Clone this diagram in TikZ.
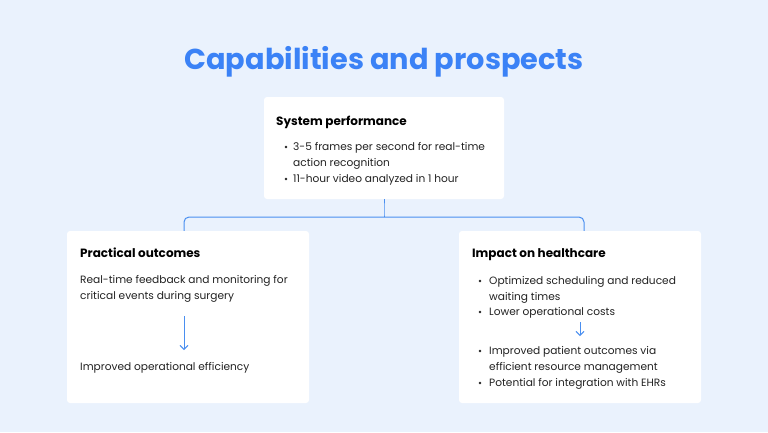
\documentclass[tikz,border=0pt]{standalone}
\usepackage{fontspec}
\setmainfont{Poppins}
\usetikzlibrary{arrows.meta}
\definecolor{bg}{HTML}{EAF2FD}
\definecolor{tblue}{HTML}{3B82F6}
\definecolor{lblue}{HTML}{4A8FF0}
\definecolor{txt}{HTML}{222222}
\tikzset{
  card/.style={draw=none,fill=white,rounded corners=3pt,inner sep=0},
  head/.style={anchor=base west,font=\fontsize{12}{14}\selectfont\bfseries,text=black,inner sep=0},
  body/.style={anchor=base west,font=\fontsize{10.6}{13}\selectfont,text=txt,inner sep=0},
  dot/.style={circle,fill=txt,inner sep=0,minimum size=2.6pt},
  conn/.style={draw=lblue,line width=1pt,rounded corners=5pt},
  arr/.style={draw=lblue,line width=0.9pt,-{Straight Barb[length=4pt,width=8pt]}}
}
\begin{document}
\begin{tikzpicture}[x=1pt,y=-1pt]
\fill[bg] (0,0) rectangle (768,432);
\useasboundingbox (0,0) rectangle (768,432);
\node[font=\fontsize{28.8}{32}\selectfont\bfseries,text=tblue] (title) at (384,62) {Capabilities and prospects};
\node[card,minimum width=240pt,minimum height=102pt] (top) at (384,148) {};
\node[card,minimum width=242pt,minimum height=172pt] (left) at (188,317) {};
\node[card,minimum width=242pt,minimum height=172pt] (right) at (580,317) {};
% connectors
\coordinate (cm) at (384,217);
\draw[conn] (top.south) -- (384,212) -- (cm);
\draw[conn] (cm) -- (184,217) -- (left.north -| 184,0);
\draw[conn] (cm) -- (584,217) -- (right.north -| 584,0);
% top
\node[head] (th) at (276,125) {System performance};
\node[dot] (tb1) at (286,147) {};
\node[body] (tt1) at (293,150) {3-5 frames per second for real-time};
\node[body] (tt1b) at (293,166) {action recognition};
\node[dot] (tb2) at (286,179) {};
\node[body] (tt2) at (293,182) {11-hour video analyzed in 1 hour};
% left
\node[head] (lh) at (80,257) {Practical outcomes};
\node[body] (l1) at (80,283) {Real-time feedback and monitoring for};
\node[body] (l2) at (80,299) {critical events during surgery};
\coordinate (la1) at (184,316);
\coordinate (la2) at (184,350);
\draw[arr] (la1) -- (la2);
\node[body] (l3) at (80,370) {Improved operational efficiency};
% right
\node[head] (rh) at (472,257) {Impact on healthcare};
\node[dot] (rb1) at (480,281) {};
\node[body] (r1) at (489,284) {Optimized scheduling and reduced};
\node[body] (r1b) at (489,300) {waiting times};
\node[dot] (rb2) at (480,312) {};
\node[body] (r2) at (489,315) {Lower operational costs};
\coordinate (ra1) at (580,322);
\coordinate (ra2) at (580,336);
\draw[arr] (ra1) -- (ra2);
\node[dot] (rb3) at (480,351) {};
\node[body] (r3) at (489,354) {Improved patient outcomes via};
\node[body] (r3b) at (489,370) {efficient resource management};
\node[dot] (rb4) at (480,383) {};
\node[body] (r4) at (489,386) {Potential for integration with EHRs};
\end{tikzpicture}
\end{document}
